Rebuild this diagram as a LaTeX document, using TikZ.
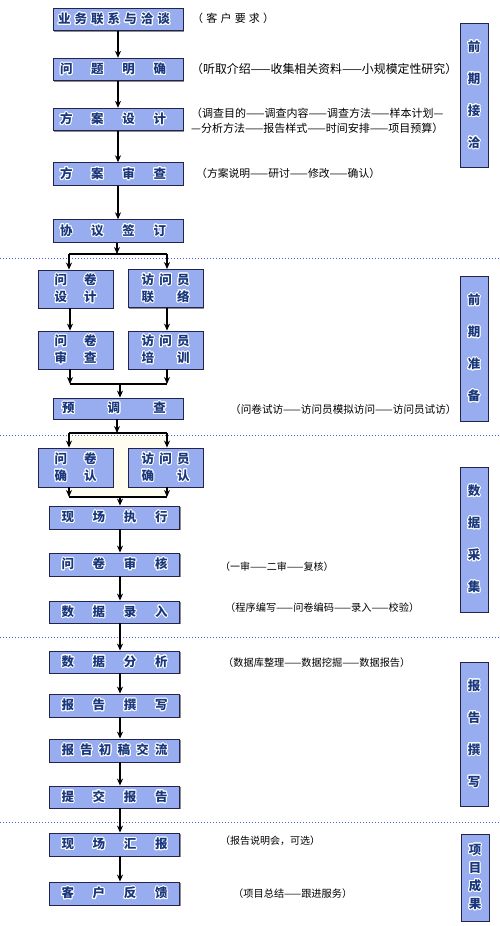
\documentclass[tikz,border=0pt]{standalone}
\usepackage{fontspec}
\newfontfamily\cjk{Noto Sans CJK SC}
\usepackage[copies]{contour}
\contourlength{1pt}
\contournumber{16}
\usetikzlibrary{arrows.meta,shadows}
\definecolor{boxfill}{RGB}{152,172,240}
\definecolor{boxborder}{RGB}{35,35,75}
\definecolor{navy}{RGB}{25,55,125}
\definecolor{dotblue}{RGB}{80,95,235}
\definecolor{cream}{RGB}{255,253,240}
\newcommand{\ct}[1]{\contour{white}{#1}}
\newcommand{\sx}[2]{\ct{\makebox[#1pt][s]{#2}}}
\tikzset{
  mbox/.style={draw=boxborder, line width=0.9pt, fill=boxfill, minimum width=130pt,
    minimum height=22.5pt, inner sep=0pt, text=navy,
    font=\cjk\bfseries\fontsize{12.5}{17}\selectfont,
    drop shadow={shadow xshift=1.2pt, shadow yshift=-1.2pt, fill=black!45, opacity=1}},
  sbox/.style={mbox, minimum width=75pt, minimum height=38pt, align=center},
  side/.style={mbox, minimum width=28pt, align=center},
  ann/.style={anchor=west, inner sep=0pt, text=black},
  arr/.style={-{Stealth[length=7pt,width=6pt]}, line width=1.1pt, black},
  jline/.style={line width=1.3pt, black},
  dotline/.style={dotblue, line width=0.8pt, dash pattern=on 0.9pt off 2.1pt}
}
\begin{document}
\begin{tikzpicture}[x=1pt,y=-1pt]
\useasboundingbox (0,0) rectangle (500,926);
\fill[white] (0,0) rectangle (500,926);
\fill[cream] (69,433) rectangle (167,497);

% dotted separators
\draw[dotline] (0,258.5) -- (500,258.5);
\draw[dotline] (0,435.5) -- (500,435.5);
\draw[dotline] (0,637) -- (500,637);
\draw[dotline] (0,822) -- (500,822);

% section 1
\node[mbox] (b1) at (118,19.5) {\hspace*{-8pt}\sx{112}{业\hfill 务\hfill 联\hfill 系\hfill 与\hfill 洽\hfill 谈}};
\node[mbox] (b2) at (118,69.5) {\hspace*{-10pt}\sx{106}{问\hfill 题\hfill 明\hfill 确}};
\node[mbox] (b3) at (118,119.5) {\hspace*{-10pt}\sx{106}{方\hfill 案\hfill 设\hfill 计}};
\node[mbox] (b4) at (118,174) {\hspace*{-10pt}\sx{106}{方\hfill 案\hfill 审\hfill 查}};
\node[mbox] (b5) at (118,231) {\hspace*{-10pt}\sx{106}{协\hfill 议\hfill 签\hfill 订}};

\draw[arr] (b1) -- (b2);
\draw[arr] (b2) -- (b3);
\draw[arr] (b3) -- (b4);
\draw[arr] (b4) -- (b5);

\node[ann, font=\cjk\fontsize{11}{13}\selectfont] (t1) at (192,18) {\makebox[82pt][s]{（\hfill 客\hfill 户\hfill 要\hfill 求\hfill ）}};
\node[ann, font=\cjk\fontsize{11.9}{13}\selectfont] (t2) at (191,69) {（听取介绍——收集相关资料——小规模定性研究）};
\node[ann, font=\cjk\fontsize{11}{15}\selectfont, align=left] (t3) at (191,120.5) {（调查目的——调查内容——调查方法——样本计划—\\—分析方法——报告样式——时间安排——项目预算）};
\node[ann, font=\cjk\fontsize{10.8}{13}\selectfont] (t4) at (196,173) {（方案说明——研讨——修改——确认）};

\node[side, minimum height=144pt] (sd1) at (474,95)
  {\ct{前}\\[15pt]\ct{期}\\[15pt]\ct{接}\\[15pt]\ct{洽}};

% section 2
\node[sbox] (s1) at (75.5,289) {\sx{42}{问\hfill 卷}\\\sx{42}{设\hfill 计}};
\node[sbox] (s2) at (165.5,288.5) {\sx{48}{访\hfill 问\hfill 员}\\\sx{48}{联\hfill 络}};
\node[sbox] (s3) at (75.5,350) {\sx{42}{问\hfill 卷}\\\sx{42}{审\hfill 查}};
\node[sbox] (s4) at (165.5,350) {\sx{48}{访\hfill 问\hfill 员}\\\sx{48}{培\hfill 训}};
\node[mbox, minimum height=21pt] (p) at (118,408.5) {\hspace*{-8pt}\sx{104}{预\hfill 调\hfill 查}};

\coordinate (j1) at (117,254);
\coordinate (j1l) at (69,254);
\coordinate (j1r) at (167,254);
\draw[jline] (j1l) -- (j1r);
\draw[arr] (b5.south -| j1) -- (j1);
\draw[arr] (j1l) -- (j1l |- s1.north);
\draw[arr] (j1r) -- (j1r |- s2.north);

\coordinate (c1l) at (70,0);
\coordinate (c1r) at (167,0);
\draw[arr] (c1l |- s1.south) -- (c1l |- s3.north);
\draw[arr] (c1r |- s2.south) -- (c1r |- s4.north);

\coordinate (m1) at (120,384);
\coordinate (m1l) at (70,384);
\coordinate (m1r) at (167,384);
\draw[jline] (m1l) -- (m1r);
\draw[arr] (m1l |- s3.south) -- (m1l);
\draw[arr] (m1r |- s4.south) -- (m1r);
\draw[arr] (m1) -- (m1 |- p.north);

\node[ann, font=\cjk\fontsize{10.6}{13}\selectfont] (t5) at (230,409) {（问卷试访——访问员模拟访问——访问员试访）};

\node[side, minimum height=145pt] (sd2) at (474,348.5)
  {\ct{前}\\[15pt]\ct{期}\\[15pt]\ct{准}\\[15pt]\ct{备}};

% section 3
\node[sbox, minimum height=39pt] (s5) at (75.5,467.5) {\sx{42}{问\hfill 卷}\\\sx{42}{确\hfill 认}};
\node[sbox, minimum height=39pt] (s6) at (165.5,467.5) {\sx{48}{访\hfill 问\hfill 员}\\\sx{48}{确\hfill 认}};
\node[mbox, minimum height=23pt] (e1) at (114.5,517.5) {\sx{106}{现\hfill 场\hfill 执\hfill 行}};
\node[mbox, minimum height=23pt] (e2) at (114.5,564.5) {\sx{106}{问\hfill 卷\hfill 审\hfill 核}};
\node[mbox, minimum height=22pt] (e3) at (114.5,612) {\sx{106}{数\hfill 据\hfill 录\hfill 入}};

\coordinate (j2) at (117,433);
\coordinate (j2l) at (69,433);
\coordinate (j2r) at (167,433);
\draw[jline] (j2l) -- (j2r);
\draw[arr] (p.south -| j2) -- (j2);
\draw[arr] (j2l) -- (j2l |- s5.north);
\draw[arr] (j2r) -- (j2r |- s6.north);

\coordinate (m2) at (120,497);
\coordinate (m2l) at (69,497);
\coordinate (m2r) at (167,497);
\draw[jline] (m2l) -- (m2r);
\draw[arr] (m2l |- s5.south) -- (m2l);
\draw[arr] (m2r |- s6.south) -- (m2r);
\draw[arr] (m2) -- (m2 |- e1.north);

\coordinate (ax) at (120,0);
\draw[arr] (e1.south -| ax) -- (e2.north -| ax);
\draw[arr] (e2.south -| ax) -- (e3.north -| ax);

\node[ann, font=\cjk\fontsize{10}{12}\selectfont] (t6) at (220,567) {（一审——二审——复核）};
\node[ann, font=\cjk\fontsize{10.2}{12}\selectfont] (t7) at (225,608) {（程序编写——问卷编码——录入——校验）};

\node[side, minimum height=145pt] (sd3) at (474,539.5)
  {\ct{数}\\[15pt]\ct{据}\\[15pt]\ct{采}\\[15pt]\ct{集}};

% section 4
\node[mbox, minimum height=22pt] (a1) at (114.5,662) {\sx{106}{数\hfill 据\hfill 分\hfill 析}};
\node[mbox, minimum height=23pt] (a2) at (114.5,705.5) {\sx{106}{报\hfill 告\hfill 撰\hfill 写}};
\node[mbox, minimum height=23pt] (a3) at (114.5,750.5) {\sx{106}{报\hfill 告\hfill 初\hfill 稿\hfill 交\hfill 流}};
\node[mbox, minimum height=22pt] (a4) at (114.5,797) {\sx{106}{提\hfill 交\hfill 报\hfill 告}};
\node[mbox, minimum height=23pt] (f1) at (114.5,844.5) {\sx{106}{现\hfill 场\hfill 汇\hfill 报}};
\node[mbox, minimum height=23pt] (f2) at (114.5,893.5) {\sx{106}{客\hfill 户\hfill 反\hfill 馈}};

\draw[arr] (e3.south -| ax) -- (a1.north -| ax);
\draw[arr] (a1.south -| ax) -- (a2.north -| ax);
\draw[arr] (a2.south -| ax) -- (a3.north -| ax);
\draw[arr] (a3.south -| ax) -- (a4.north -| ax);
\draw[arr] (a4.south -| ax) -- (f1.north -| ax);
\draw[arr] (f1.south -| ax) -- (f2.north -| ax);

\node[ann, font=\cjk\fontsize{10.2}{12}\selectfont] (t8) at (223,663) {（数据库整理——数据挖掘——数据报告）};
\node[ann, font=\cjk\fontsize{10}{12}\selectfont] (t9) at (220,841) {（报告说明会，可选）};
\node[ann, font=\cjk\fontsize{10.2}{12}\selectfont] (t10) at (233,894) {（项目总结——跟进服务）};

\node[side, minimum height=144pt] (sd4) at (474,734)
  {\ct{报}\\[15pt]\ct{告}\\[15pt]\ct{撰}\\[15pt]\ct{写}};
\node[side, minimum height=87pt] (sd5) at (475,877.5)
  {\ct{项}\\[1pt]\ct{目}\\[1pt]\ct{成}\\[1pt]\ct{果}};
\end{tikzpicture}
\end{document}
